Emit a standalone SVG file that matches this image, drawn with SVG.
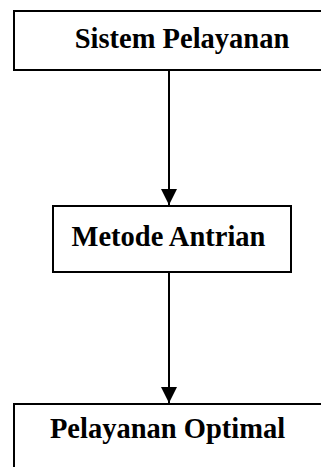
<svg xmlns="http://www.w3.org/2000/svg" width="321" height="467" viewBox="0 0 321 467">
  <defs>
    <style>
      .box { fill: #ffffff; stroke: #000000; stroke-width: 2; }
      .label { font-family: "Liberation Serif", "Times New Roman", serif; font-size: 28.5px; font-weight: bold; fill: #000000; text-anchor: middle; }
      .link { stroke: #000000; stroke-width: 2; fill: none; }
    </style>
    <marker id="arrow" viewBox="0 0 16 16" refX="16" refY="8" markerWidth="16" markerHeight="16" markerUnits="userSpaceOnUse" orient="auto">
      <path d="M0,0 L16,8 L0,16 Z" fill="#000000"/>
    </marker>
  </defs>
  <rect width="321" height="467" fill="#ffffff"/>

  <g id="sistem-pelayanan">
    <rect class="box" x="14" y="11" width="320" height="59"/>
    <text class="label" x="182" y="48">Sistem Pelayanan</text>
  </g>

  <g id="metode-antrian">
    <rect class="box" x="53" y="206" width="238" height="66"/>
    <text class="label" x="168.5" y="246">Metode Antrian</text>
  </g>

  <g id="pelayanan-optimal">
    <rect class="box" x="14" y="404" width="320" height="80"/>
    <text class="label" x="167.5" y="438">Pelayanan Optimal</text>
  </g>

  <g id="connectors">
    <line class="link" x1="169" y1="70" x2="169" y2="205" marker-end="url(#arrow)"/>
    <line class="link" x1="169" y1="272" x2="169" y2="403" marker-end="url(#arrow)"/>
  </g>
</svg>
